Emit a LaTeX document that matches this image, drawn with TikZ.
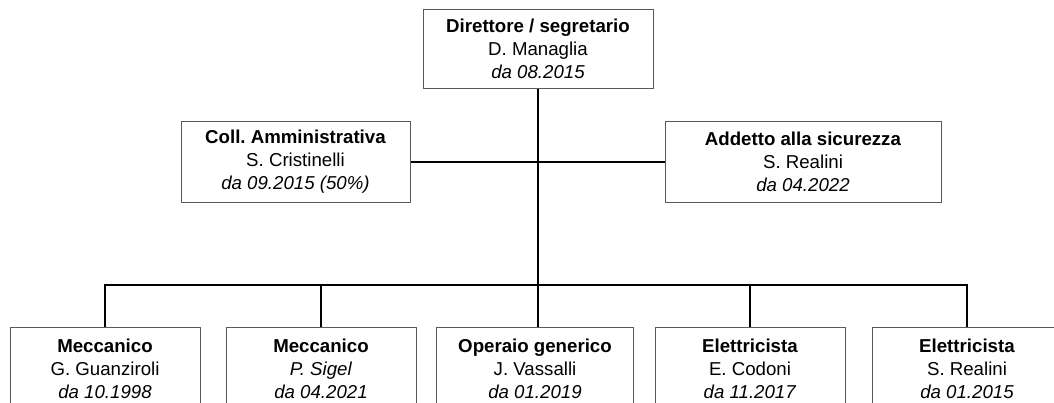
\documentclass[tikz,border=0pt]{standalone}
\usepackage{fontspec}
\setmainfont{Liberation Sans}
\frenchspacing
\begin{document}
\begin{tikzpicture}[x=0.75pt,y=-0.75pt,
  orgbox/.style={draw=black!65,line width=0.75pt,fill=white,inner sep=0pt,align=center,
    font=\fontsize{14}{17.25}\selectfont},
  link/.style={draw=black,line width=1.1pt}]
\useasboundingbox (0,0) rectangle (1054,403);
\begin{scope}
\clip (0,0) rectangle (1054,403);
% boxes
\node[orgbox,minimum width=172.5pt,minimum height=59.25pt] (top) at (538,49)
  {\textbf{Direttore / segretario}\\D. Managlia\\\textit{da 08.2015}};
\node[orgbox,minimum width=171.75pt,minimum height=60pt] (coll) at (295.5,162)
  {\textbf{Coll. Amministrativa}\\S. Cristinelli\\\textit{da 09.2015 (50\%)}};
\node[orgbox,minimum width=207pt,minimum height=60pt] (add) at (803,162)
  {\textbf{Addetto alla sicurezza}\\S. Realini\\\textit{da 04.2022}};
\node[orgbox,minimum width=142.5pt,minimum height=63pt] (b1) at (105,369)
  {\textbf{Meccanico}\\G. Guanziroli\\\textit{da 10.1998}};
\node[orgbox,minimum width=142.5pt,minimum height=63pt] (b2) at (321,369)
  {\textbf{Meccanico}\\\textit{P. Sigel}\\\textit{da 04.2021}};
\node[orgbox,minimum width=147.75pt,minimum height=63pt] (b3) at (535,369)
  {\textbf{Operaio generico}\\J. Vassalli\\\textit{da 01.2019}};
\node[orgbox,minimum width=142.5pt,minimum height=63pt] (b4) at (750,369)
  {\textbf{Elettricista}\\E. Codoni\\\textit{da 11.2017}};
\node[orgbox,minimum width=142.5pt,minimum height=63pt] (b5) at (967,369)
  {\textbf{Elettricista}\\S. Realini\\\textit{da 01.2015}};
% connectors
\coordinate (bus) at (538,285);
\draw[link] (coll.east) -- (add.west);
\draw[link] (top.south) -- (bus);
\draw[link] (b1.north) |- (bus) -| (b5.north);
\draw[link] (b2.north) -- (b2.north |- bus);
\draw[link] (b3.north -| bus) -- (bus);
\draw[link] (b4.north) -- (b4.north |- bus);
\end{scope}
\end{tikzpicture}
\end{document}
